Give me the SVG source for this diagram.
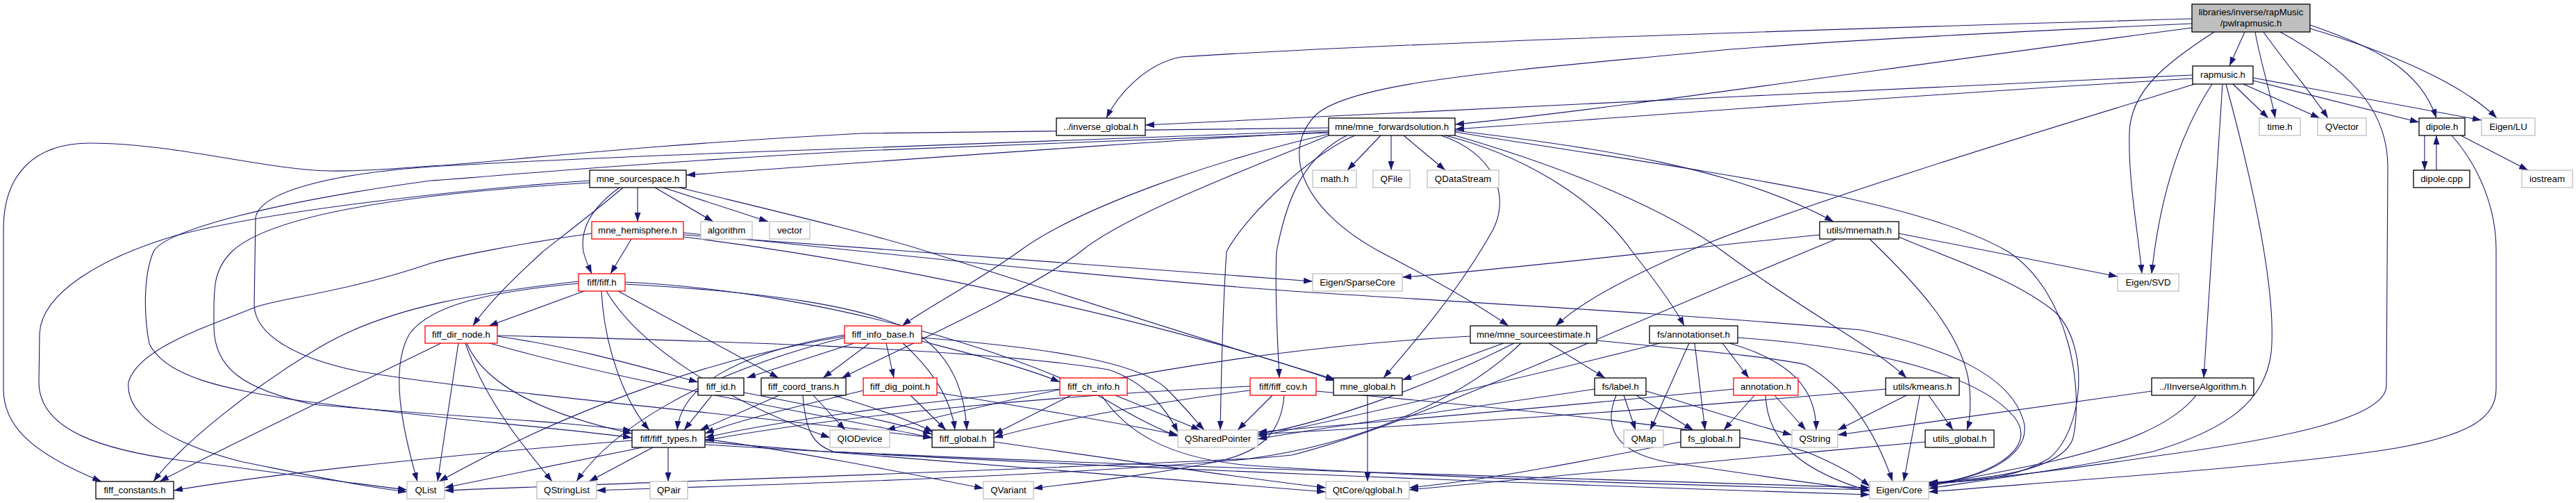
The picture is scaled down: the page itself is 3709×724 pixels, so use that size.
<svg xmlns="http://www.w3.org/2000/svg" width="3709" height="724" viewBox="0 0 3709 724">
<style>
.n rect{fill:#fff;stroke:#000;stroke-width:1.3}
.g rect{stroke:#bfbfbf}
.r rect{stroke:#f00}
.root rect{fill:#bfbfbf}
text{font-family:'Liberation Sans',Arial,Helvetica,sans-serif;font-size:13.3px;text-anchor:middle;fill:#000}
#edges path{fill:none;stroke:#191970;stroke-width:1.1;marker-end:url(#a)}
</style>
<defs>
<marker id="a" viewBox="0 0 13 9" refX="13" refY="4.5" markerWidth="13" markerHeight="9" markerUnits="userSpaceOnUse" orient="auto"><path d="M0,0L13,4.5L0,9z" fill="#191970"/></marker>
</defs>
<rect width="3709" height="724" fill="#fff"/>
<g id="edges">
<path d="M3156,27 C2700,40 2000,62 1700,82 C1650,92 1610,135 1593,170"/>
<path d="M3232,46 L3210,95"/>
<path d="M3156,40 C2700,100 2300,160 2095,179"/>
<path d="M3156,34 C2800,50 2600,62 2480,72 C2200,100 1950,115 1895,165 C1845,215 1870,300 1990,364 C2060,400 2130,440 2172,469"/>
<path d="M3247,46 C3255,90 3268,130 3276,170"/>
<path d="M3259,46 C3290,90 3325,130 3352,170"/>
<path d="M3326,36 C3420,68 3485,100 3508,170"/>
<path d="M3326,41 C3440,75 3545,120 3595,170"/>
<path d="M3188,46 C3120,90 3068,130 3066,190 C3064,260 3078,330 3084,394"/>
<path d="M3283,46 C3400,110 3438,170 3438,240 L3436,555 C3436,600 3300,630 3100,657 C2950,680 2850,690 2777,698"/>
<path d="M3157,108 C2700,128 2000,165 1649,180"/>
<path d="M3157,113 C2700,140 2400,165 2095,186"/>
<path d="M3160,121 C3000,170 2600,290 2430,362 C2330,405 2270,440 2240,469"/>
<path d="M3200,121 L3173,544"/>
<path d="M3215,121 L3266,170"/>
<path d="M3230,121 L3340,170"/>
<path d="M3244,116 L3483,176"/>
<path d="M3244,112 L3573,173"/>
<path d="M3185,121 C3140,190 3110,280 3098,394"/>
<path d="M3205,121 C3240,250 3275,400 3271,495 C3268,580 3200,620 3100,650 C2950,680 2850,692 2777,703"/>
<path d="M3491,195 L3491,245"/>
<path d="M3508,245 L3508,195"/>
<path d="M3543,195 L3640,245"/>
<path d="M3530,195 C3570,240 3594,300 3594,360 L3594,560 C3594,600 3560,625 3450,645 C3300,670 3000,690 2777,708"/>
<path d="M3098,563 L2646,626"/>
<path d="M3162,569 C3130,610 3060,640 2950,665 C2880,680 2820,690 2777,700"/>
<path d="M1913,190 C1700,200 1300,230 988,252"/>
<path d="M1988,195 L1940,245"/>
<path d="M2003,195 L2003,245"/>
<path d="M2021,195 L2081,245"/>
<path d="M2095,188 C2300,212 2500,242 2640,319"/>
<path d="M2081,195 C2200,225 2300,290 2350,362 C2380,400 2410,440 2425,469"/>
<path d="M2095,195 C2250,240 2400,300 2485,365 C2600,450 2700,500 2745,544"/>
<path d="M2095,190 C2400,240 2750,280 2891,362 C2980,420 3000,560 2985,630 C2970,680 2850,690 2777,695"/>
<path d="M1939,195 C1870,230 1850,300 1838,362 C1835,420 1840,500 1842,544"/>
<path d="M2075,195 C2150,220 2175,280 2150,330 C2100,420 2030,500 1992,544"/>
<path d="M1951,195 C1900,215 1800,300 1766,362 C1760,450 1758,560 1757,619"/>
<path d="M1913,193 C1750,230 1550,300 1467,362 C1400,410 1330,445 1299,469"/>
<path d="M1913,195 C1780,250 1620,310 1556,362 C1480,420 1300,500 1212,544"/>
<path d="M1913,184 C1600,188 1300,190 1240,192 C900,210 700,235 620,239 C560,243 520,247 474,246 C380,244 250,206 130,206 C50,206 5,250 5,330 L5,560 C5,610 40,650 146,693"/>
<path d="M1913,191 C1600,205 1300,216 1240,217 C900,235 700,255 620,260 C400,290 240,330 221,362 C205,400 208,460 215,495 C240,545 330,560 420,575 C600,600 800,615 910,630"/>
<path d="M1913,188 C1600,200 1300,212 1240,213 C900,225 700,235 620,240 C480,250 375,275 368,313 L366,440 C368,480 420,515 520,535 C700,565 1100,600 1342,630"/>
<path d="M918,270 L918,319"/>
<path d="M943,270 L1027,319"/>
<path d="M955,270 L1106,319"/>
<path d="M978,270 C1100,300 1250,335 1335,362 C1550,430 1800,510 1922,546"/>
<path d="M892,270 C850,300 835,330 840,362 C843,375 848,385 852,394"/>
<path d="M897,270 C850,310 790,355 782,362 C740,400 700,440 681,469"/>
<path d="M849,260 C700,270 400,300 250,340 C150,370 60,420 57,480 L56,550 C56,620 150,650 280,665 C400,680 500,695 586,705"/>
<path d="M849,263 C650,275 400,300 334,362 C305,390 308,420 308,470 C308,530 350,560 450,582 C650,600 800,605 910,620"/>
<path d="M909,344 L879,394"/>
<path d="M984,338 C1300,360 1700,392 1890,405"/>
<path d="M984,341 C1300,380 1700,470 1922,548"/>
<path d="M984,335 C1300,368 1600,400 1860,419 C2100,435 2400,450 2680,475 C2800,500 2900,540 2915,612 C2920,660 2850,690 2777,696"/>
<path d="M852,336 C750,350 650,370 620,379 C500,420 400,430 368,442 C300,470 200,500 185,550 C180,600 250,640 350,665 C450,685 520,700 586,708"/>
<path d="M841,419 L704,469"/>
<path d="M866,419 C870,500 900,580 935,619"/>
<path d="M873,419 C920,500 1050,580 1195,630"/>
<path d="M890,419 L1121,544"/>
<path d="M833,405 C700,420 560,440 460,500 C360,560 260,640 221,693"/>
<path d="M833,408 C700,420 620,440 590,480 C560,530 580,620 601,693"/>
<path d="M900,409 C1100,420 1250,440 1320,480 C1380,520 1390,580 1392,619"/>
<path d="M900,406 C1200,420 1500,520 1600,580 C1650,610 1680,622 1696,628"/>
<path d="M716,484 C830,500 930,530 1005,550"/>
<path d="M672,494 C700,560 800,600 910,624"/>
<path d="M670,494 C700,580 760,650 795,693"/>
<path d="M660,494 L630,693"/>
<path d="M635,494 C500,560 330,640 230,693"/>
<path d="M705,494 C900,550 1150,590 1342,630"/>
<path d="M716,483 C1000,490 1400,500 1596,532 C1650,550 1680,590 1696,622"/>
<path d="M1276,494 L1287,544"/>
<path d="M1327,491 C1400,510 1480,530 1526,550"/>
<path d="M1230,494 L1075,544"/>
<path d="M1252,494 L1185,544"/>
<path d="M1216,482 C1050,510 980,560 975,619"/>
<path d="M1216,486 C1000,540 880,620 830,693"/>
<path d="M1216,484 C1000,520 800,600 632,693"/>
<path d="M1300,494 C1350,540 1370,580 1375,619"/>
<path d="M1327,486 C1500,500 1640,520 1680,560 C1710,590 1725,610 1734,619"/>
<path d="M1025,569 L985,619"/>
<path d="M1071,565 C1200,590 1300,610 1342,625"/>
<path d="M1122,569 L1008,619"/>
<path d="M1171,569 L1217,619"/>
<path d="M1200,569 C1270,590 1320,610 1344,622"/>
<path d="M1156,569 C1160,620 1170,640 1200,650 C1600,670 2300,690 2692,702"/>
<path d="M1243,562 C1150,585 1060,605 1015,624"/>
<path d="M1311,569 L1362,619"/>
<path d="M1349,565 C1500,590 1620,610 1696,626"/>
<path d="M1526,560 C1300,580 1100,610 1015,630"/>
<path d="M1542,569 L1431,625"/>
<path d="M1606,569 L1728,619"/>
<path d="M1586,569 C1620,620 1680,660 1800,670 C2100,690 2500,700 2692,705"/>
<path d="M1800,556 C1500,570 1200,600 1015,634"/>
<path d="M1800,562 C1650,580 1500,610 1431,630"/>
<path d="M1832,569 L1782,619"/>
<path d="M1895,563 C2200,590 2500,620 2600,650 C2650,670 2680,690 2692,700"/>
<path d="M1849,569 C1845,620 1820,650 1750,665 C1650,685 1550,695 1488,703"/>
<path d="M1969,569 L1969,693"/>
<path d="M2165,494 L2019,547"/>
<path d="M2230,494 L2311,544"/>
<path d="M2117,484 C1800,500 1500,560 1276,619"/>
<path d="M2180,494 C2050,560 1900,610 1811,625"/>
<path d="M2190,494 C2100,580 1950,640 1800,660 C1400,680 900,695 640,706"/>
<path d="M2299,490 C2450,505 2560,515 2600,525 C2660,560 2700,620 2725,693"/>
<path d="M2480,494 L2518,544"/>
<path d="M2440,494 L2455,619"/>
<path d="M2432,494 L2376,619"/>
<path d="M2490,494 C2580,520 2615,560 2615,619"/>
<path d="M2502,486 C2700,500 2850,540 2900,600 C2940,650 2850,690 2777,697"/>
<path d="M2390,494 C2250,530 1950,600 1811,628"/>
<path d="M2338,569 L2355,619"/>
<path d="M2356,569 L2438,619"/>
<path d="M2296,560 C2100,590 1900,615 1811,632"/>
<path d="M2370,563 C2430,580 2500,605 2580,626"/>
<path d="M2327,569 C2310,610 2320,650 2400,665 C2500,680 2600,695 2692,706"/>
<path d="M2526,569 L2482,619"/>
<path d="M2555,569 L2600,619"/>
<path d="M2542,569 C2545,640 2600,680 2692,707"/>
<path d="M2496,560 C2200,590 1950,610 1811,622"/>
<path d="M2745,569 L2646,619"/>
<path d="M2777,569 L2812,619"/>
<path d="M2764,569 L2741,693"/>
<path d="M2715,560 C2400,590 2000,615 1811,625"/>
<path d="M2620,338 C2400,360 2150,390 2019,399"/>
<path d="M2734,336 L3049,398"/>
<path d="M2692,344 C2750,400 2830,480 2836,560 C2838,590 2835,610 2832,619"/>
<path d="M2734,341 C2800,370 2900,400 2960,450 C3010,500 3000,620 2950,660 C2900,690 2830,695 2777,694"/>
<path d="M2644,344 L2480,412 C2200,530 2000,620 1860,655 C1500,690 1000,700 859,706"/>
<path d="M2772,636 C2500,660 2200,690 2029,705"/>
<path d="M2420,636 C2300,660 2150,690 2029,702"/>
<path d="M1431,636 C1600,660 1800,690 1909,702"/>
<path d="M910,634 C700,650 400,680 250,706"/>
<path d="M925,644 C800,670 700,690 640,702"/>
<path d="M940,644 L848,693"/>
<path d="M962,644 L962,693"/>
<path d="M1015,632 C1150,650 1300,680 1416,703"/>
<path d="M1015,636 C1300,660 1700,690 1909,708"/>
<path d="M1015,640 C1500,670 2300,700 2692,712"/>
</g>
<g id="n-pwlrapmusic" class="n root"><rect x="3156" y="6" width="170" height="40"/><text x="3241" y="22">libraries/inverse/rapMusic</text><text x="3241" y="38">/pwlrapmusic.h</text></g>
<g id="n-rapmusic" class="n"><rect x="3157" y="95" width="87" height="26"/><text x="3200.5" y="112">rapmusic.h</text></g>
<g id="n-inverse_global" class="n"><rect x="1521" y="170" width="128" height="25"/><text x="1585" y="187">../inverse_global.h</text></g>
<g id="n-mne_forwardsolution" class="n"><rect x="1913" y="170" width="182" height="25"/><text x="2004" y="187">mne/mne_forwardsolution.h</text></g>
<g id="n-time" class="n g"><rect x="3253" y="170" width="59" height="25"/><text x="3282.5" y="187">time.h</text></g>
<g id="n-qvector" class="n g"><rect x="3337" y="170" width="70" height="25"/><text x="3372" y="187">QVector</text></g>
<g id="n-dipole_h" class="n"><rect x="3483" y="170" width="66" height="25"/><text x="3516" y="187">dipole.h</text></g>
<g id="n-eigen_lu" class="n g"><rect x="3573" y="170" width="77" height="25"/><text x="3611.5" y="187">Eigen/LU</text></g>
<g id="n-mne_sourcespace" class="n"><rect x="849" y="245" width="139" height="25"/><text x="918.5" y="262">mne_sourcespace.h</text></g>
<g id="n-math" class="n g"><rect x="1890" y="245" width="63" height="25"/><text x="1921.5" y="262">math.h</text></g>
<g id="n-qfile" class="n g"><rect x="1977" y="245" width="53" height="25"/><text x="2003.5" y="262">QFile</text></g>
<g id="n-qdatastream" class="n g"><rect x="2055" y="245" width="103" height="25"/><text x="2106.5" y="262">QDataStream</text></g>
<g id="n-dipole_cpp" class="n"><rect x="3475" y="245" width="81" height="25"/><text x="3515.5" y="262">dipole.cpp</text></g>
<g id="n-iostream" class="n g"><rect x="3631" y="245" width="73" height="25"/><text x="3667.5" y="262">iostream</text></g>
<g id="n-mne_hemisphere" class="n r"><rect x="852" y="319" width="132" height="25"/><text x="918" y="336">mne_hemisphere.h</text></g>
<g id="n-algorithm" class="n g"><rect x="1009" y="319" width="74" height="25"/><text x="1046" y="336">algorithm</text></g>
<g id="n-vector" class="n g"><rect x="1108" y="319" width="58" height="25"/><text x="1137" y="336">vector</text></g>
<g id="n-mnemath" class="n"><rect x="2620" y="319" width="114" height="25"/><text x="2677" y="336">utils/mnemath.h</text></g>
<g id="n-fiff" class="n r"><rect x="833" y="394" width="67" height="25"/><text x="866.5" y="411">fiff/fiff.h</text></g>
<g id="n-sparsecore" class="n g"><rect x="1890" y="394" width="129" height="25"/><text x="1954.5" y="411">Eigen/SparseCore</text></g>
<g id="n-svd" class="n g"><rect x="3049" y="394" width="88" height="25"/><text x="3093" y="411">Eigen/SVD</text></g>
<g id="n-fiff_dir_node" class="n r"><rect x="612" y="469" width="104" height="25"/><text x="664" y="486">fiff_dir_node.h</text></g>
<g id="n-fiff_info_base" class="n r"><rect x="1216" y="469" width="111" height="25"/><text x="1271.5" y="486">fiff_info_base.h</text></g>
<g id="n-mne_sourceestimate" class="n"><rect x="2117" y="469" width="182" height="25"/><text x="2208" y="486">mne/mne_sourceestimate.h</text></g>
<g id="n-annotationset" class="n"><rect x="2375" y="469" width="127" height="25"/><text x="2438.5" y="486">fs/annotationset.h</text></g>
<g id="n-fiff_id" class="n"><rect x="1005" y="544" width="66" height="25"/><text x="1038" y="561">fiff_id.h</text></g>
<g id="n-fiff_coord_trans" class="n"><rect x="1096" y="544" width="122" height="25"/><text x="1157" y="561">fiff_coord_trans.h</text></g>
<g id="n-fiff_dig_point" class="n r"><rect x="1243" y="544" width="106" height="25"/><text x="1296" y="561">fiff_dig_point.h</text></g>
<g id="n-fiff_ch_info" class="n r"><rect x="1526" y="544" width="97" height="25"/><text x="1574.5" y="561">fiff_ch_info.h</text></g>
<g id="n-fiff_cov" class="n r"><rect x="1800" y="544" width="95" height="25"/><text x="1847.5" y="561">fiff/fiff_cov.h</text></g>
<g id="n-mne_global" class="n"><rect x="1920" y="544" width="99" height="25"/><text x="1969.5" y="561">mne_global.h</text></g>
<g id="n-label" class="n"><rect x="2296" y="544" width="74" height="25"/><text x="2333" y="561">fs/label.h</text></g>
<g id="n-annotation" class="n r"><rect x="2496" y="544" width="93" height="25"/><text x="2542.5" y="561">annotation.h</text></g>
<g id="n-kmeans" class="n"><rect x="2715" y="544" width="106" height="25"/><text x="2768" y="561">utils/kmeans.h</text></g>
<g id="n-iinversealgorithm" class="n"><rect x="3098" y="544" width="147" height="25"/><text x="3171.5" y="561">../IInverseAlgorithm.h</text></g>
<g id="n-fiff_types" class="n"><rect x="910" y="619" width="105" height="25"/><text x="962.5" y="636">fiff/fiff_types.h</text></g>
<g id="n-qiodevice" class="n g"><rect x="1195" y="619" width="86" height="25"/><text x="1238" y="636">QIODevice</text></g>
<g id="n-fiff_global" class="n"><rect x="1342" y="619" width="89" height="25"/><text x="1386.5" y="636">fiff_global.h</text></g>
<g id="n-qsharedpointer" class="n g"><rect x="1696" y="619" width="115" height="25"/><text x="1753.5" y="636">QSharedPointer</text></g>
<g id="n-qmap" class="n g"><rect x="2338" y="619" width="57" height="25"/><text x="2366.5" y="636">QMap</text></g>
<g id="n-fs_global" class="n"><rect x="2420" y="619" width="85" height="25"/><text x="2462.5" y="636">fs_global.h</text></g>
<g id="n-qstring" class="n g"><rect x="2580" y="619" width="66" height="25"/><text x="2613" y="636">QString</text></g>
<g id="n-utils_global" class="n"><rect x="2772" y="619" width="99" height="25"/><text x="2821.5" y="636">utils_global.h</text></g>
<g id="n-fiff_constants" class="n"><rect x="138" y="693" width="112" height="25"/><text x="194" y="710">fiff_constants.h</text></g>
<g id="n-qlist" class="n g"><rect x="586" y="693" width="54" height="25"/><text x="613" y="710">QList</text></g>
<g id="n-qstringlist" class="n g"><rect x="773" y="693" width="86" height="25"/><text x="816" y="710">QStringList</text></g>
<g id="n-qpair" class="n g"><rect x="936" y="693" width="54" height="25"/><text x="963" y="710">QPair</text></g>
<g id="n-qvariant" class="n g"><rect x="1416" y="693" width="72" height="25"/><text x="1452" y="710">QVariant</text></g>
<g id="n-qglobal" class="n g"><rect x="1909" y="693" width="120" height="25"/><text x="1969" y="710">QtCore/qglobal.h</text></g>
<g id="n-eigen_core" class="n g"><rect x="2692" y="693" width="85" height="25"/><text x="2734.5" y="710">Eigen/Core</text></g>
</svg>
